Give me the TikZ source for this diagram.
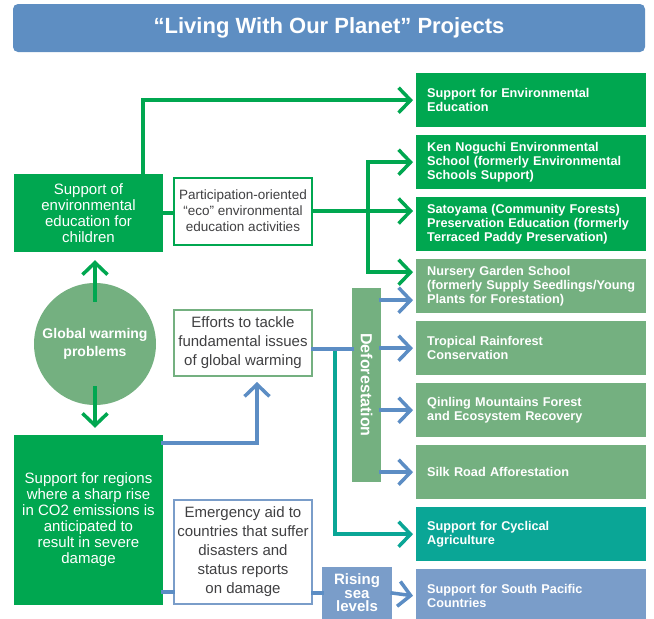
\documentclass[tikz,border=0pt]{standalone}
\usepackage{fontspec}
\setmainfont{Liberation Sans}
\usetikzlibrary{arrows.meta,positioning}
\definecolor{dkgreen}{RGB}{0,167,80}
\definecolor{ltgreen}{RGB}{116,176,128}
\definecolor{tealgreen}{RGB}{10,166,150}
\definecolor{boxblue}{RGB}{122,157,201}
\definecolor{lineblue}{RGB}{92,141,196}
\definecolor{titleblue}{RGB}{94,142,194}
\definecolor{textgray}{RGB}{64,64,66}

\begin{document}
\begin{tikzpicture}[x=1pt, y=-1pt, node distance=7.6pt]
% Define block styles
\tikzstyle{project} = [rectangle, text=white, text width=208pt, inner xsep=11pt,
    inner ysep=0pt, minimum height=54pt, align=left,
    font=\bfseries\fontsize{12.7}{14}\selectfont]
\tikzstyle{topic} = [rectangle, fill=dkgreen, text=white, minimum width=149pt,
    align=center, font=\fontsize{15}{16}\selectfont]
\tikzstyle{activity} = [rectangle, draw, line width=2pt, fill=white, text=textgray,
    minimum width=138pt, align=center, inner sep=2pt, font=\fontsize{15}{19}\selectfont]
\tikzstyle{tag} = [rectangle, text=white, align=center, inner sep=0pt]
\tikzstyle{line} = [draw, line width=3.5pt, line cap=rect]
\tikzstyle{arrowline} = [line, -{Straight Barb[length=12pt,width=25pt]}, shorten >=3pt]

    \useasboundingbox (0,0) rectangle (654,619);
    % Place nodes
    \node [rectangle, rounded corners=5pt, fill=titleblue, minimum width=632pt,
        minimum height=48pt, text=white, font=\bfseries\fontsize{22}{26}\selectfont]
        (title) at (329,28) {“Living With Our Planet” Projects};

    \node [project, fill=dkgreen, anchor=north west] (p1) at (416,73)
        {Support for Environmental\\Education};
    \node [project, fill=dkgreen, below=of p1] (p2)
        {Ken Noguchi Environmental\\School (formerly Environmental\\Schools Support)};
    \node [project, fill=dkgreen, below=of p2] (p3)
        {Satoyama (Community Forests)\\Preservation Education (formerly\\Terraced Paddy Preservation)};
    \node [project, fill=ltgreen, below=of p3] (p4)
        {Nursery Garden School\\(formerly Supply Seedlings/Young\\Plants for Forestation)};
    \node [project, fill=ltgreen, below=of p4] (p5) {Tropical Rainforest\\Conservation};
    \node [project, fill=ltgreen, below=of p5] (p6) {Qinling Mountains Forest\\and Ecosystem Recovery};
    \node [project, fill=ltgreen, below=of p6] (p7) {Silk Road Afforestation};
    \node [project, fill=tealgreen, below=of p7] (p8) {Support for Cyclical\\Agriculture};
    \node [project, fill=boxblue, below=of p8] (p9) {Support for South Pacific\\Countries};

    \node [topic, minimum height=78pt] (edu) at (88.5,213)
        {Support of\\environmental\\education for\\children};
    \node [circle, fill=ltgreen, minimum size=122pt, inner sep=0pt, text=white, align=center,
        font=\bfseries\fontsize{14}{18}\selectfont] (gw) at (95,344) {Global warming\\problems};
    \node [topic, minimum height=170pt] (regions) at (88.5,520)
        {Support for regions\\where a sharp rise\\in CO2 emissions is\\anticipated to\\result in severe\\damage};

    \node [activity, draw=dkgreen, minimum height=67pt, font=\fontsize{13.5}{16}\selectfont]
        (part) at (243,211) {Participation-oriented\\“eco” environmental\\education activities};
    \node [activity, draw=ltgreen, minimum height=66pt] (efforts) at (243,343)
        {Efforts to tackle\\fundamental issues\\of global warming};
    \node [activity, draw=boxblue, minimum height=104pt] (emerg) at (243,552)
        {Emergency aid to\\countries that suffer\\disasters and\\status reports\\on damage};

    \node [tag, fill=ltgreen, rotate=-90, minimum width=194pt, minimum height=29pt,
        font=\bfseries\fontsize{16}{18}\selectfont] (defo) at (366.5,385) {Deforestation};
    \node [tag, fill=boxblue, minimum width=70pt, minimum height=52pt,
        font=\bfseries\fontsize{15}{13.5}\selectfont] (rising) at (357,593) {Rising\\sea\\levels};

    \coordinate (gsplit) at (368,213);
    \coordinate (g4) at ([yshift=14pt]p4.west);
    \coordinate (b4) at ([yshift=-14pt]p4.west);
    \coordinate (b1) at ([yshift=-8pt]regions.north east);
    \coordinate (b2) at ([yshift=-6pt]efforts.east);
    \coordinate (b3) at ([yshift=13pt]regions.south east);
    \coordinate (tsplit) at (335,349);

    % Draw edges
    \path [arrowline, dkgreen, shorten >=8pt] ([yshift=-17pt]gw.north) -- (gw.north |- edu.south);
    \path [arrowline, dkgreen, shorten >=7pt] ([yshift=17pt]gw.south) -- (gw.south |- regions.north);
    \path [arrowline, dkgreen] ([xshift=-20pt]edu.north east) |- (p1.west);
    \path [line, dkgreen] (edu.east) -- (edu.east -| part.west);
    \path [arrowline, dkgreen] (part.east) -- (part.east -| p3.west);
    \path [arrowline, dkgreen] (g4 -| gsplit) |- (p2.west);
    \path [arrowline, dkgreen] (g4 -| gsplit) -- (g4);

    \path [arrowline, tealgreen] (tsplit) |- (p8.west);
    \path [arrowline, lineblue, shorten >=5pt] (b1) -| ([xshift=14pt]efforts.south);
    \path [line, lineblue] (b2) -- (b2 -| defo.south);
    \path [arrowline, lineblue] (b4 -| defo.north) -- (b4);
    \foreach \n in {5,6,7}
        \path [arrowline, lineblue] (p\n.west -| defo.north) -- (p\n.west);
    \path [line, lineblue] (b3) -- (b3 -| emerg.west);
    \path [line, lineblue] (rising.west -| emerg.east) -- (rising.west);
    \path [arrowline, lineblue] (rising.east) -- (p9.west);
\end{tikzpicture}
\end{document}
